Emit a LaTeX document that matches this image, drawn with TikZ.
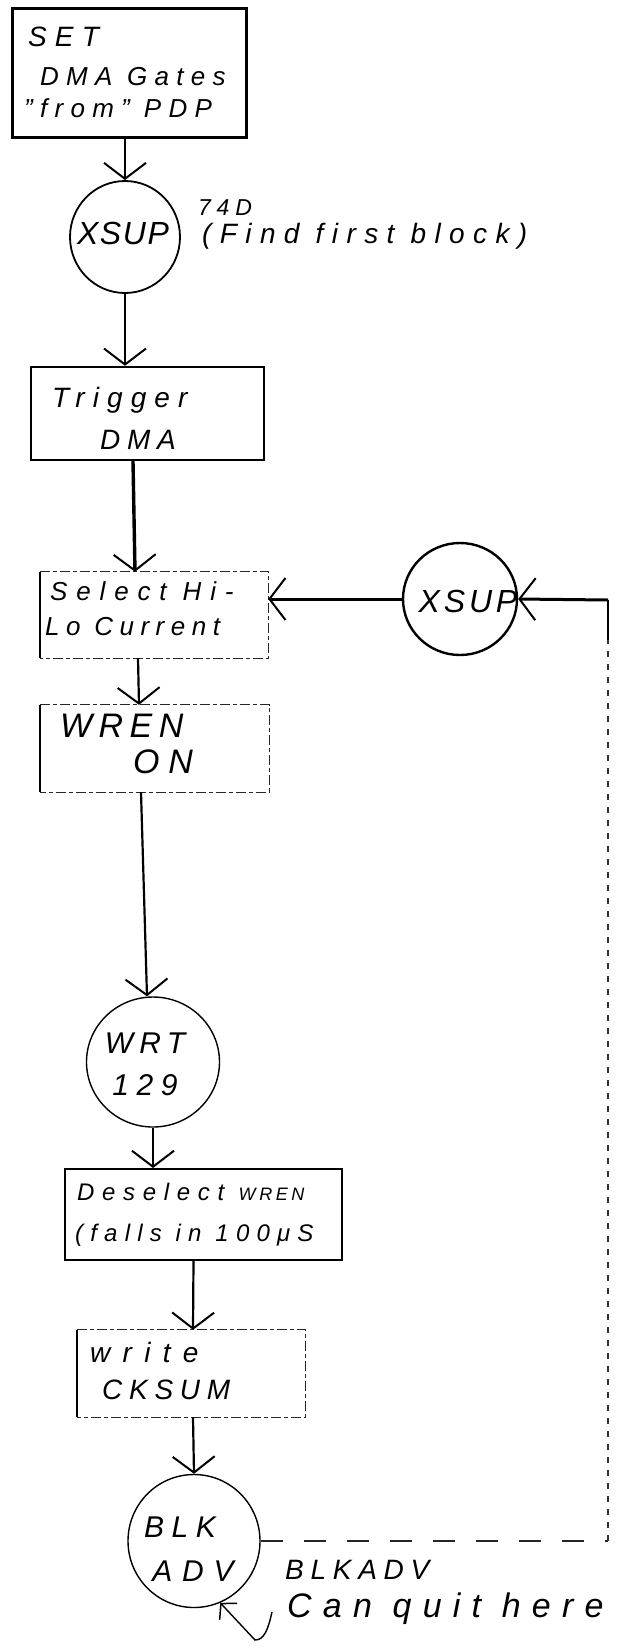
\documentclass[tikz,border=0pt]{standalone}
\usepackage{fontspec}
\setmainfont{Liberation Sans}
\usetikzlibrary{arrows.meta,shapes.geometric}
\newcommand{\hw}[3]{{\fontsize{#1}{#1}\selectfont\addfontfeature{LetterSpace=#2}#3}}
\begin{document}
\begin{tikzpicture}[x=1pt,y=-1pt,
  solidbox/.style={draw, rectangle, inner sep=0pt},
  plainbox/.style={rectangle, inner sep=0pt},
  faintedge/.style={line width=1.2pt, black!85, dash pattern=on 10pt off 3pt on 4pt off 3pt},
  faintleft/.style={line width=1.6pt},
  ring/.style={draw, ellipse, inner sep=0pt, line width=1.8pt},
  txt/.style={inner sep=0pt, anchor=west, font=\itshape},
  ctxt/.style={inner sep=0pt, anchor=center, font=\itshape},
  flow/.style={line width=2.2pt, -{Straight Barb[length=16pt,width=42pt,line width=2pt]}},
  loopdash/.style={line width=1.3pt, black!85, dash pattern=on 22pt off 21pt},
  loopdot/.style={line width=1.1pt, black!80, dash pattern=on 6pt off 7pt},
  smallarrow/.style={line width=1.4pt, -{Straight Barb[length=11pt,width=24pt,line width=1.5pt]}}]
\useasboundingbox (0,0) rectangle (621,1649);
\fill[white] (0,0) rectangle (621,1649);

% boxes and circles
\node[solidbox, line width=3pt, minimum width=234pt, minimum height=129pt] (top) at (129,72.5) {};
\node[ring, minimum width=110pt, minimum height=112pt] (xsup1) at (125,237) {};
\node[solidbox, line width=2.4pt, minimum width=233pt, minimum height=93pt] (trig) at (147.5,413.5) {};
\node[plainbox, minimum width=228pt, minimum height=86pt] (sel) at (154,615) {};
\node[ring, line width=2.4pt, minimum width=114pt, minimum height=112pt] (xsup2) at (460,599) {};
\node[plainbox, minimum width=229pt, minimum height=87pt] (wren) at (154.5,748.5) {};
\node[ring, line width=1.4pt, minimum width=133pt, minimum height=130pt] (wrt) at (153,1062) {};
\node[solidbox, line width=2pt, minimum width=277pt, minimum height=91pt] (desel) at (203.5,1214.5) {};
\node[plainbox, minimum width=228pt, minimum height=87pt] (write) at (191,1373.5) {};
\node[ring, line width=1.4pt, minimum width=132pt, minimum height=133pt] (blk) at (194,1541) {};

% faint (broken) box outlines: solid left side, broken elsewhere
\foreach \b in {sel,wren,write}{
  \draw[faintleft] (\b.north west) -- (\b.south west);
  \draw[faintedge] (\b.north west) -- (\b.north east) -- (\b.south east) -- (\b.south west);
}

% texts
\node[txt] (tset) at (28,37) {\hw{28}{29}{SET}};
\node[txt] (tdma) at (40,77) {\hw{26}{28}{DMA Gates}};
\node[txt] (tfrom) at (24,108) {\hw{26}{28}{"from"\hspace{14pt}PDP}};
\node[txt] (t74d) at (198,208) {\hw{23}{25}{74D}};
\node[txt] (tfind) at (202,236) {\hw{28}{30}{(Find first block)}};
\node[ctxt] (txsup1) at (123,233) {\hw{32}{5}{XSUP}};
\node[txt] (ttrig) at (52,400) {\hw{28}{29}{Trigger}};
\node[ctxt] (tdma2) at (138,440) {\hw{28}{24}{DMA}};
\node[txt] (tsel) at (50,591) {\hw{26}{34}{Select Hi-}};
\node[txt] (tlo) at (45,627) {\hw{26}{25}{Lo Current}};
\node[ctxt] (txsup2) at (468,601) {\hw{32}{12}{XSUP}};
\node[txt] (twren) at (60,726) {\hw{34}{19}{WREN}};
\node[txt] (ton) at (133,762) {\hw{34}{26}{ON}};
\node[ctxt] (twrt) at (145,1043) {\hw{30}{21}{WRT}};
\node[ctxt] (t129) at (145,1085) {\hw{30}{25}{129}};
\node[txt] (tdes) at (77,1192) {\hw{24}{32}{Deselect }\hw{18}{20}{WREN}};
\node[txt] (tfalls) at (75,1235) {\hw{24}{30}{(falls in 100μS}};
\node[txt] (twrite) at (90,1352) {\hw{28}{44}{write}};
\node[txt] (tck) at (102,1390) {\hw{28}{24}{CKSUM}};
\node[ctxt] (tblk) at (180,1527) {\hw{30}{25}{BLK}};
\node[ctxt] (tadv) at (193,1571) {\hw{30}{33}{ADV}};
\node[txt] (tblkadv) at (285,1570) {\hw{28}{24}{BLKADV}};
\node[txt] (tquit) at (287,1609) {\hw{34}{33}{Can quit here}};

% flow connectors
\draw[flow] (top.south -| xsup1.north) -- (xsup1.north);
\draw[flow] (xsup1.south) -- (xsup1.south |- trig.north);
\draw[flow, line width=3.4pt] ([xshift=-14.5pt]trig.south) -- ([xshift=-19pt]sel.north);
\draw[flow] ([xshift=-16pt]sel.south) -- ([xshift=-15.5pt]wren.north);
\draw[flow] ([xshift=-13.5pt]wren.south) -- ([xshift=-6pt]wrt.north);
\draw[flow] (wrt.south) -- (wrt.south |- desel.north);
\draw[flow] ([xshift=-10pt]desel.south) -- ([xshift=2pt]write.north);
\draw[flow] ([xshift=2pt]write.south) -- (blk.north);
\draw[flow, line width=3pt] (xsup2.west) -- (xsup2.west -| sel.east);

% loop back
\coordinate (lc1) at (608,1541);
\coordinate (lc2) at (608,600);
\coordinate (lc3) at (608,640);
\draw[loopdash] (blk.east) -- (lc1);
\draw[loopdot] (lc1) -- (lc3);
\draw[line width=2.2pt] (lc3) -- (lc2);
\draw[flow, line width=3pt] (lc2) -- (xsup2.east);

% "can quit here" pointer
\coordinate (w0) at (272,1612);
\coordinate (w1) at (255,1640);
\draw[smallarrow] (w0) .. controls (268,1630) and (264,1640) .. (w1) -- (blk.-67);
\end{tikzpicture}
\end{document}
